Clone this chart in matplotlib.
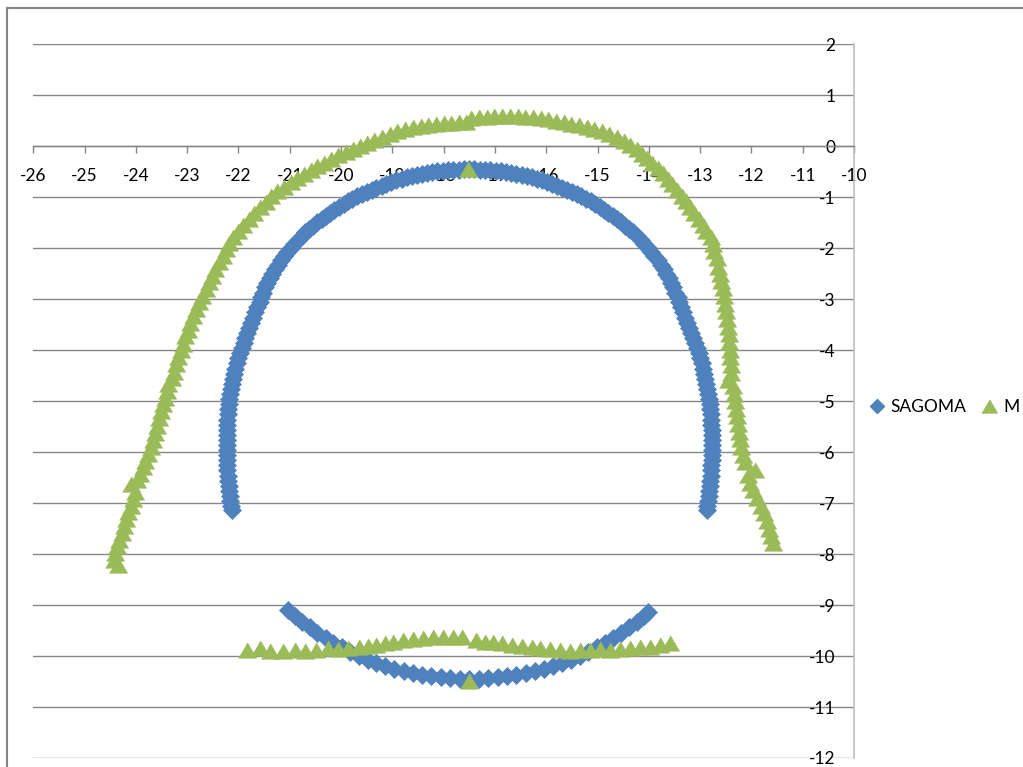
import matplotlib
matplotlib.use("Agg")
import matplotlib.pyplot as plt
from matplotlib.lines import Line2D
from matplotlib.patches import Rectangle

plt.rcParams['font.family'] = ['Lato', 'DejaVu Sans']
plt.rcParams['axes.unicode_minus'] = False

# SAGOMA: apex of the arch, then half profile (top -> bottom) for each side
apex_x = [-17.50]
apex_y = [-0.45]
half_y = [-0.45, -0.46, -0.46, -0.47, -0.48, -0.49, -0.50, -0.52, -0.54, -0.56,
          -0.59, -0.61, -0.64, -0.67, -0.70, -0.74, -0.77, -0.81, -0.85, -0.89,
          -0.94, -0.98, -1.03, -1.08, -1.14, -1.19, -1.25, -1.31, -1.37, -1.43,
          -1.49, -1.56, -1.62, -1.69, -1.76, -1.84,
          -1.91, -1.99, -2.07, -2.15, -2.23, -2.32, -2.41, -2.50, -2.59, -2.68,
          -2.77, -2.87, -2.96, -3.06, -3.16, -3.26, -3.36, -3.46, -3.56, -3.66,
          -3.76, -3.86, -3.96, -4.06, -4.16, -4.26, -4.36, -4.46, -4.56, -4.66,
          -4.76, -4.86, -4.96, -5.06, -5.16, -5.26, -5.36, -5.46, -5.56, -5.66,
          -5.76, -5.86, -5.96, -6.06, -6.16, -6.26, -6.36, -6.46, -6.56, -6.66,
          -6.76, -6.86, -6.96, -7.06, -7.14]
left_x = [-17.60, -17.71, -17.81, -17.91, -18.02, -18.12, -18.22, -18.32, -18.42, -18.52,
          -18.62, -18.72, -18.82, -18.92, -19.02, -19.12, -19.21, -19.31, -19.40, -19.50,
          -19.59, -19.68, -19.78, -19.87, -19.95, -20.04, -20.13, -20.21, -20.30, -20.38,
          -20.46, -20.54, -20.62, -20.70, -20.77, -20.84,
          -20.91, -20.98, -21.05, -21.11, -21.17, -21.23, -21.29, -21.34, -21.39, -21.44,
          -21.48, -21.52, -21.56, -21.59, -21.63, -21.67, -21.71, -21.75, -21.79, -21.83,
          -21.87, -21.90, -21.94, -21.97, -22.00, -22.03, -22.06, -22.08, -22.10, -22.12,
          -22.14, -22.16, -22.18, -22.19, -22.20, -22.21, -22.22, -22.22, -22.23, -22.23,
          -22.23, -22.23, -22.23, -22.23, -22.23, -22.22, -22.22, -22.21, -22.20, -22.19,
          -22.18, -22.17, -22.16, -22.14, -22.13]
right_x = [-17.40, -17.29, -17.19, -17.09, -16.98, -16.88, -16.78, -16.68, -16.58, -16.48,
           -16.38, -16.28, -16.18, -16.08, -15.98, -15.88, -15.79, -15.69, -15.60, -15.50,
           -15.41, -15.32, -15.22, -15.13, -15.05, -14.96, -14.87, -14.79, -14.70, -14.62,
           -14.54, -14.46, -14.38, -14.30, -14.23, -14.16,
           -14.09, -14.02, -13.95, -13.89, -13.83, -13.77, -13.71, -13.66, -13.61, -13.56,
           -13.52, -13.48, -13.44, -13.41, -13.37, -13.33, -13.29, -13.25, -13.21, -13.17,
           -13.13, -13.10, -13.06, -13.03, -13.00, -12.97, -12.94, -12.92, -12.90, -12.88,
           -12.86, -12.84, -12.82, -12.81, -12.80, -12.79, -12.78, -12.78, -12.77, -12.77,
           -12.77, -12.77, -12.77, -12.77, -12.77, -12.78, -12.78, -12.79, -12.80, -12.81,
           -12.82, -12.83, -12.84, -12.86, -12.87]
# invert arc (left -> right)
invert_x = [-21.04, -20.90, -20.76, -20.61, -20.46, -20.30, -20.15, -19.98, -19.82, -19.65,
            -19.48, -19.31, -19.14, -18.96, -18.78, -18.60, -18.42, -18.24, -18.05, -17.87,
            -17.69, -17.50, -17.32, -17.13, -16.95, -16.76, -16.58, -16.40, -16.22, -16.04,
            -15.87, -15.69, -15.52, -15.35, -15.18, -15.02, -14.86, -14.70, -14.54, -14.39,
            -14.24, -14.10, -14.01]
invert_y = [-9.09, -9.21, -9.33, -9.44, -9.55, -9.65, -9.74, -9.83, -9.92, -9.99,
            -10.07, -10.13, -10.19, -10.25, -10.29, -10.33, -10.37, -10.40, -10.42, -10.44,
            -10.45, -10.45, -10.45, -10.44, -10.42, -10.40, -10.37, -10.33, -10.29, -10.25,
            -10.19, -10.13, -10.07, -9.99, -9.92, -9.83, -9.74, -9.65, -9.55, -9.44,
            -9.33, -9.21, -9.13]

# M: measured profile, upper arch (left bottom -> right bottom)
meas_x = [-24.35, -24.43, -24.40, -24.36, -24.32, -24.28, -24.24, -24.20, -24.15, -24.10,
          -24.06, -24.01, -24.10, -23.97, -23.92, -23.87, -23.82, -23.76, -23.71, -23.67,
          -23.63, -23.59, -23.55, -23.51, -23.47, -23.43, -23.39, -23.37, -23.30, -23.26,
          -23.22, -23.18, -23.13, -23.09, -23.04, -22.99, -22.94, -22.89, -22.83, -22.77,
          -22.71, -22.64, -22.57, -22.51, -22.45, -22.38, -22.31, -22.25, -22.18, -22.10,
          -22.01, -21.91, -21.80, -21.69, -21.58, -21.47, -21.36, -21.24, -21.11, -20.98,
          -20.85, -20.72, -20.59, -20.46, -20.33, -20.19, -20.05, -19.91, -19.77, -19.63,
          -19.49, -19.35, -19.20, -19.05, -18.90, -18.75, -18.60, -18.45, -18.30, -18.15,
          -18.00, -17.85, -17.70, -17.56, -17.46, -17.31, -17.16, -17.01, -16.86, -16.71,
          -16.56, -16.41, -16.26, -16.11, -15.96, -15.81, -15.66, -15.51, -15.36, -15.21,
          -15.06, -14.91, -14.77, -14.63, -14.49, -14.36, -14.24, -14.13, -14.03, -13.93,
          -13.83, -13.73, -13.63, -13.54, -13.45, -13.36, -13.27, -13.19, -13.11, -13.03,
          -12.95, -12.88, -12.78, -12.75, -12.72, -12.68, -12.65, -12.62, -12.59, -12.56,
          -12.53, -12.51, -12.49, -12.47, -12.46, -12.44, -12.43, -12.42, -12.41, -12.40,
          -12.39, -12.45, -12.36, -12.34, -12.32, -12.30, -12.29, -12.27, -12.25, -12.23,
          -12.20, -12.17, -12.13, -11.93, -12.07, -12.02, -11.96, -11.89, -11.82, -11.76,
          -11.70, -11.65, -11.61, -11.58]
meas_y = [-8.22, -8.12, -7.98, -7.85, -7.72, -7.58, -7.45, -7.32, -7.18, -7.05,
          -6.92, -6.78, -6.62, -6.55, -6.42, -6.30, -6.17, -6.03, -5.90, -5.76,
          -5.62, -5.48, -5.34, -5.20, -5.06, -4.93, -4.80, -4.66, -4.55, -4.42,
          -4.28, -4.14, -4.00, -3.87, -3.73, -3.60, -3.46, -3.33, -3.19, -3.06,
          -2.93, -2.80, -2.67, -2.54, -2.41, -2.28, -2.15, -2.02, -1.90, -1.78,
          -1.66, -1.54, -1.42, -1.31, -1.20, -1.09, -0.98, -0.88, -0.79, -0.71,
          -0.63, -0.55, -0.47, -0.39, -0.32, -0.25, -0.18, -0.11, -0.05, 0.01,
          0.07, 0.13, 0.19, 0.24, 0.29, 0.33, 0.37, 0.40, 0.42, 0.44,
          0.45, 0.46, 0.47, 0.48, 0.56, 0.57, 0.58, 0.59, 0.60, 0.60,
          0.59, 0.58, 0.57, 0.55, 0.53, 0.50, 0.47, 0.44, 0.41, 0.37,
          0.33, 0.29, 0.24, 0.18, 0.11, 0.03, -0.06, -0.15, -0.24, -0.33,
          -0.43, -0.53, -0.64, -0.75, -0.86, -0.97, -1.08, -1.19, -1.31, -1.43,
          -1.55, -1.67, -1.78, -1.92, -2.06, -2.20, -2.36, -2.50, -2.64, -2.79,
          -2.94, -3.09, -3.24, -3.39, -3.54, -3.69, -3.84, -3.99, -4.14, -4.29,
          -4.44, -4.58, -4.70, -4.85, -5.00, -5.15, -5.30, -5.45, -5.60, -5.75,
          -5.90, -6.05, -6.20, -6.35, -6.45, -6.60, -6.75, -6.90, -7.05, -7.20,
          -7.35, -7.50, -7.65, -7.78]
# M: single points on the axis of the profile
meas_pts_x = [-17.52, -17.50]
meas_pts_y = [-0.45, -10.48]
# M: measured floor
floor_x = [-21.84, -21.58, -21.39, -21.13, -20.90, -20.70, -20.48, -20.25, -20.05, -19.86,
           -19.66, -19.47, -19.31, -19.14, -18.98, -18.79, -18.59, -18.40, -18.20, -18.01,
           -17.81, -17.65, -17.36, -17.20, -17.03, -16.87, -16.67, -16.48, -16.28, -16.12,
           -15.93, -15.73, -15.54, -15.34, -15.15, -14.95, -14.76, -14.56, -14.37, -14.17,
           -13.98, -13.78, -13.59]
floor_y = [-9.88, -9.85, -9.91, -9.91, -9.89, -9.91, -9.89, -9.85, -9.87, -9.85,
           -9.82, -9.80, -9.78, -9.75, -9.72, -9.69, -9.67, -9.65, -9.62, -9.63,
           -9.63, -9.63, -9.69, -9.72, -9.72, -9.75, -9.78, -9.80, -9.83, -9.85,
           -9.87, -9.89, -9.91, -9.89, -9.88, -9.87, -9.88, -9.87, -9.85, -9.83,
           -9.82, -9.78, -9.75]

labels = ["SAGOMA", "M"]
x_ticks = list(range(-26, -9))
y_ticks = list(range(-12, 3))

sagoma_x = apex_x + left_x + right_x + invert_x
sagoma_y = apex_y + half_y + half_y + invert_y
m_x = meas_x + meas_pts_x + floor_x
m_y = meas_y + meas_pts_y + floor_y

blue = '#4F81BD'
green = '#9BBB59'
grid_col = '#868686'
tri = [(-1, -0.85), (1, -0.85), (0, 0.85)]

fig = plt.figure(figsize=(10.23, 7.67), dpi=100)
ax = fig.add_axes([33.3 / 1023, 9 / 767, 820.7 / 1023, 713.7 / 767])

ax.plot(sagoma_x, sagoma_y, ls='none', marker='D', ms=9.3, color=blue,
        mec=blue, mew=0.5, zorder=3)
ax.plot(m_x, m_y, ls='none', marker=tri, ms=13, color=green,
        mec=green, mew=0.5, zorder=4)

ax.set_xlim(-26, -10)
ax.set_ylim(-12, 2)
ax.set_xticks(x_ticks)
ax.set_yticks(y_ticks)
ax.set_axisbelow(True)
ax.yaxis.grid(True, color=grid_col, lw=1)

ax.spines['top'].set_visible(False)
ax.spines['left'].set_visible(False)
ax.spines['right'].set_color('#BFBFBF')
ax.spines['right'].set_linewidth(1.2)
ax.spines['bottom'].set_position(('data', 0))
ax.spines['bottom'].set_color(grid_col)
ax.spines['bottom'].set_linewidth(1)

ax.tick_params(axis='x', direction='out', length=5, width=1, color=grid_col,
               labelsize=12.5, pad=11)
ax.yaxis.tick_right()
ax.tick_params(axis='y', length=0, labelsize=12.5, pad=-13.5)
for t in ax.yaxis.get_major_ticks():
    t.label2.set_horizontalalignment('right')

# legend markers are drawn a little smaller than the plotted ones
leg_handles = [Line2D([], [], ls='none', marker='D', ms=6.8, color=blue),
               Line2D([], [], ls='none', marker=tri, ms=11, color=green)]
fig.legend(leg_handles, labels, loc='center left', bbox_to_anchor=(869 / 1023, 360 / 767),
           ncol=2, frameon=False, fontsize=12.5, handlelength=0.9, handletextpad=0.35,
           columnspacing=0.85, borderpad=0, borderaxespad=0)

# outer chart border (runs off the right and bottom of the image)
fig.add_artist(Rectangle((6.5 / 1023, -0.1), 1.2, 1.1 - 8.5 / 767, transform=fig.transFigure,
                         fill=False, ec=grid_col, lw=1.5))

fig.savefig('out.png', dpi=100)
